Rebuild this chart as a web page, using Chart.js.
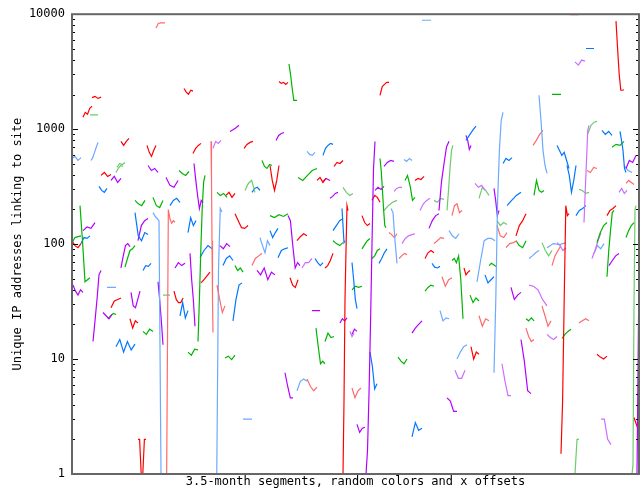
<!DOCTYPE html>
<html>
<head>
<meta charset="utf-8">
<script src="https://cdn.jsdelivr.net/npm/chart.js@4.4.1/dist/chart.umd.min.js"></script>
<style>
  html, body { margin: 0; padding: 0; background: #fff; }
  canvas { display: block; }
</style>
</head>
<body>
<canvas id="chart" width="642" height="489"></canvas>
<script>
// one entry per 3.5-month segment: colour index, x offset range, values
const segColor = [
  1, 0, 0, 0, 3, 0, 5, 5, 0, 0,
  3, 2, 0, 6, 6, 0, 7, 1, 5, 4,
  0, 2, 5, 0, 4, 6, 6, 2, 6, 5,
  6, 3, 5, 1, 4, 7, 0, 2, 5, 1,
  4, 7, 3, 4, 4, 2, 6, 3, 0, 6,
  6, 2, 6, 4, 2, 2, 4, 6, 4, 6,
  5, 1, 4, 2, 2, 2, 6, 6, 4, 0,
  2, 6, 6, 2, 4, 6, 6, 5, 0, 6,
  6, 2, 0, 4, 0, 3, 6, 0, 4, 4,
  0, 2, 0, 2, 0, 6, 2, 0, 3, 4,
  6, 3, 0, 2, 6, 4, 5, 0, 4, 1,
  6, 4, 2, 6, 7, 4, 0, 2, 4, 0,
  4, 0, 1, 4, 6, 6, 7, 2, 2, 2,
  6, 5, 1, 5, 6, 7, 0, 3, 5, 0,
  2, 0, 7, 3, 1, 7, 3, 6, 1, 7,
  5, 1, 2, 2, 4, 1, 0, 4, 2, 0,
  5, 4, 2, 4, 2, 1, 2, 2, 5, 1,
  6, 6, 5, 0, 2, 4, 7, 1, 6, 6,
  4, 5, 4, 1, 5, 1, 7, 2, 3, 6,
  4, 0, 3, 1, 1, 2, 4, 0, 0, 2,
  2, 7, 5, 6, 2, 5, 7, 3, 1, 5,
  6, 7, 1, 2, 1, 3, 6, 0, 1, 7,
  2, 0, 7, 6, 7, 3, 4, 5
];

const segFrom = [
  84, 112, 20, 11, 18, 49, 0, 19, 75, 121,
  45, 217, 207, 158, 204, 172, 141, 139, 235, 251,
  262, 190, 350, 308, 394, 394, 294, 308, 312, 332,
  367, 375, 422, 498, 514, 503, 544, 480, 467, 461,
  485, 512, 516, 530, 548, 540, 554, 44, 29, 39,
  76, 107, 122, 27, 63, 81, 98, 94, 63, 66,
  81, 93, 116, 126, 116, 8, 1, 11, 9, 0,
  0, 21, 49, 53, 71, 103, 118, 35, 39, 59,
  31, 36, 58, 108, 102, 91, 86, 129, 128, 44,
  66, 71, 198, 226, 245, 250, 145, 154, 173, 180,
  258, 271, 163, 198, 216, 198, 188, 225, 206, 180,
  148, 151, 163, 185, 230, 243, 253, 261, 261, 271,
  270, 218, 145, 161, 240, 268, 278, 153, 244, 253,
  213, 225, 235, 171, 303, 322, 300, 312, 319, 290,
  333, 343, 348, 362, 380, 403, 407, 357, 317, 330,
  377, 362, 290, 300, 307, 327, 353, 360, 380, 392,
  405, 413, 417, 280, 280, 370, 353, 398, 368, 407,
  340, 280, 385, 399, 326, 298, 383, 280, 375, 285,
  340, 325, 495, 515, 552, 554, 547, 462, 507, 422,
  435, 444, 425, 425, 434, 444, 504, 489, 535, 535,
  525, 520, 522, 537, 554, 475, 485, 470, 480, 457,
  439, 457, 470, 454, 507, 560, 565, 562, 454, 475,
  490, 525, 430, 449, 529, 499, 431, 143
];

const segTo = [
  93, 121, 29, 20, 26, 57, 9, 26, 84, 129,
  53, 225, 216, 167, 212, 181, 149, 141, 243, 261,
  271, 200, 359, 317, 404, 399, 303, 314, 322, 340,
  377, 381, 431, 507, 522, 513, 552, 489, 475, 471,
  497, 517, 525, 540, 554, 552, 564, 51, 39, 49,
  86, 117, 131, 35, 73, 91, 108, 106, 76, 76,
  91, 103, 124, 133, 126, 18, 11, 23, 18, 9,
  9, 29, 58, 63, 79, 113, 123, 44, 49, 68,
  40, 44, 66, 116, 111, 98, 91, 138, 140, 63,
  74, 81, 207, 245, 254, 258, 155, 163, 183, 188,
  266, 281, 176, 216, 228, 206, 198, 235, 216, 190,
  158, 161, 171, 203, 240, 251, 261, 271, 271, 276,
  273, 226, 153, 170, 248, 275, 282, 163, 253, 262,
  221, 235, 245, 180, 312, 330, 308, 325, 325, 298,
  343, 352, 358, 372, 390, 413, 417, 367, 325, 343,
  387, 372, 298, 308, 315, 335, 362, 368, 391, 398,
  423, 422, 424, 285, 290, 380, 362, 407, 377, 417,
  350, 285, 395, 407, 335, 305, 393, 289, 385, 293,
  350, 330, 504, 525, 560, 562, 555, 472, 517, 427,
  449, 454, 435, 435, 445, 454, 514, 497, 544, 542,
  535, 529, 532, 547, 562, 494, 494, 480, 489, 467,
  449, 475, 479, 462, 517, 564, 570, 568, 462, 485,
  499, 535, 439, 459, 539, 507, 440, 150
];

const segValues = [
  [7600, 8300, 8400, 8400, 8400],
  [2260, 2100, 2010, 2180, 2140],
  [1880, 1930, 1850, 1900],
  [1270, 1400, 1350, 1520, 1580],
  [1330, 1330, 1330],
  [783, 722, 783, 830],
  [556, 579, 534, 565],
  [534, 565, 628, 695, 767],
  [722, 628, 579, 654, 722],
  [615, 680, 722, 752],
  [465, 503, 493, 513],
  [3690, 2970, 2260, 1780, 1780, 1780],
  [2600, 2500, 2550, 2450, 2550],
  [955, 990, 1030, 1080],
  [798, 882, 918, 936],
  [680, 737, 767, 783],
  [680, 783, 752, 798],
  [783, 358, 107, 33, 17],
  [641, 603, 591, 628],
  [591, 680, 722, 752, 737],
  [474, 513, 503, 534],
  [534, 474, 455, 493, 483],
  [8860, 8860, 8860],
  [1970, 2350, 2450, 2550, 2550],
  [798, 882, 975, 1060],
  [882, 798, 667, 722],
  [1, 1.6, 5, 20, 100, 450, 780],
  [556, 437, 300, 200, 145, 139],
  [474, 513, 534, 524],
  [545, 524, 556, 534],
  [196, 350, 500, 700, 783],
  [196, 293, 455, 654, 722],
  [7.6, 33, 240, 654, 1190, 1400],
  [9900, 9900, 9900],
  [5030, 5030, 5030],
  [3850, 3610, 3990, 3910],
  [8700, 5000, 3000, 2180, 2180, 2200],
  [2010, 2010, 2010],
  [1970, 1190, 654, 483, 412],
  [722, 798, 900, 975],
  [722, 654, 591, 628, 534, 455],
  [154, 293, 534, 975, 1080],
  [918, 1080, 1150, 1170],
  [975, 900, 955, 882],
  [955, 798, 654, 455, 420],
  [695, 737, 722, 783],
  [455, 534, 513, 591],
  [420, 455, 483, 474],
  [396, 420, 388, 404],
  [358, 388, 344, 373],
  [483, 437, 455, 420],
  [437, 412, 396, 428],
  [503, 358, 265, 204, 240, 228],
  [318, 293, 282, 305],
  [240, 224, 216, 240],
  [255, 216, 208, 240],
  [216, 240, 250, 231],
  [380, 324, 312, 358],
  [188, 118, 107, 126, 121],
  [107, 145, 160, 167],
  [188, 175, 167, 160, 1, 1],
  [1, 1, 200, 165, 152, 160, 155],
  [126, 170, 145, 160],
  [14.2, 33, 88, 204, 344, 396],
  [11.5, 10.8, 12.2, 12],
  [216, 107, 47, 49, 51],
  [44, 39, 36, 40, 38],
  [131, 141, 137, 154],
  [101, 114, 112, 118],
  [107, 97, 93, 101],
  [103, 114, 116, 118],
  [14.2, 21.5, 33, 54, 59],
  [62, 79, 97, 101, 95],
  [63, 75, 88, 91, 97],
  [59, 65, 64, 68],
  [62, 69, 65, 68],
  [83, 49, 33, 19.3],
  [42, 42, 42],
  [28, 32, 33, 34],
  [38, 29, 28, 33, 39],
  [25.4, 23.8, 22.4, 24.4],
  [22.4, 23.8, 24.9, 24.4],
  [22.4, 18.6, 21.5, 20.6],
  [23.8, 31, 22.8, 26.4],
  [39, 33, 31, 31, 34],
  [36, 36, 36],
  [47, 33, 21.5, 13.3],
  [46, 49, 53, 57],
  [76, 88, 97, 91],
  [12.8, 14.8, 11.5, 14.2, 12, 13.5],
  [2, 2, 1, 1, 2, 2],
  [17.4, 16.4, 18.2, 17.4],
  [483, 358, 293, 358, 483],
  [380, 358, 396, 437, 455],
  [358, 380, 344, 373],
  [344, 373, 358],
  [282, 265, 276, 255],
  [265, 282, 255, 276],
  [293, 337, 358, 282],
  [282, 305, 312, 293],
  [250, 260, 276, 282],
  [312, 282, 265, 276],
  [184, 160, 139, 137, 145],
  [177, 170, 180, 174, 184],
  [177, 160, 97, 62, 69, 65],
  [131, 114, 126, 137],
  [114, 97, 84, 107, 97],
  [107, 116, 123, 118],
  [76, 88, 91, 93],
  [65, 75, 79, 83],
  [97, 91, 101, 95],
  [65, 75, 79, 72],
  [65, 59, 62, 57],
  [59, 54, 62, 49, 57, 54],
  [62, 69, 69, 75],
  [75, 69, 65, 69],
  [62, 65, 72, 83],
  [107, 101, 97, 103],
  [131, 145, 160, 167],
  [1, 4.3, 33, 88, 216, 196],
  [204, 145, 103, 107],
  [51, 44, 42, 49],
  [44, 33, 25.4, 29],
  [21.5, 33, 44, 46],
  [26.4, 26.4, 26.4],
  [20.6, 22.4, 21.5, 22.8],
  [17.4, 15.7, 16.8],
  [10.2, 10.6, 9.9, 10.8],
  [18.6, 12.8, 9.1, 9.6, 9.1],
  [14.2, 16.8, 15.4, 15.7],
  [7.6, 5.8, 4.6, 4.6],
  [5.3, 6.4, 6.7, 6.4],
  [6.7, 5.8, 5.3, 5.7],
  [3, 3, 3],
  [293, 312, 299, 318],
  [288, 305, 312, 312],
  [240, 265, 255, 231],
  [196, 216, 231, 240],
  [204, 188, 107, 68],
  [177, 154, 145, 151],
  [358, 396, 324, 240, 255],
  [358, 373, 365, 388],
  [196, 224, 240, 250],
  [240, 231, 250, 245],
  [177, 216, 224, 188, 196],
  [337, 312, 324, 293],
  [250, 312, 293, 265],
  [137, 160, 177, 184],
  [126, 121, 114, 123],
  [101, 112, 118, 121, 123],
  [131, 118, 112, 123],
  [101, 107, 114, 112],
  [91, 99, 107, 112],
  [75, 79, 88, 91],
  [68, 75, 84, 91],
  [75, 79, 83, 81],
  [75, 84, 88, 84],
  [68, 63, 62, 64],
  [72, 75, 69, 79, 49, 22.4],
  [62, 54, 57, 59],
  [47, 72, 107, 112, 112, 107],
  [54, 46, 49, 52],
  [65, 68, 66, 64],
  [69, 49, 33, 27.5],
  [40, 43, 42, 43],
  [52, 43, 49, 51],
  [39, 42, 44, 43],
  [36, 31, 34, 32],
  [26.4, 21.5, 22.8, 22.4],
  [23.8, 19.3, 22.4, 21.5],
  [16.8, 18.6, 20, 21.5],
  [16.4, 18.2, 17.4],
  [10, 11.5, 12.8, 13.3],
  [12.8, 10, 11.5, 11],
  [10.4, 9.6, 9.1, 10],
  [11.5, 8.7, 5.5, 6.1],
  [8, 6.8, 6.8, 8],
  [5.6, 4.6, 5.3, 5.6],
  [4.6, 4.3, 3.5, 3.5],
  [2.7, 2.3, 2.5, 2.55],
  [2.1, 2.8, 2.4, 2.5],
  [1, 1, 1],
  [483, 396, 282, 358, 483],
  [437, 420, 465, 455],
  [483, 437, 420],
  [337, 358, 344, 330],
  [282, 305, 276, 293],
  [265, 358, 293, 282, 293],
  [299, 293, 276, 282],
  [305, 240, 177, 196],
  [216, 240, 265, 282],
  [118, 145, 160, 184],
  [160, 145, 154, 148],
  [145, 118, 114, 126],
  [93, 101, 103, 107],
  [107, 97, 93, 107],
  [177, 196, 204, 216],
  [1.5, 4.3, 33, 216, 177, 184],
  [177, 196, 204, 216],
  [52, 88, 131, 188, 196],
  [103, 126, 145, 154],
  [75, 88, 107, 126],
  [83, 97, 91, 101],
  [65, 72, 79, 83],
  [114, 131, 145, 154],
  [93, 101, 99, 103],
  [103, 97, 88, 93],
  [103, 88, 79, 88],
  [65, 79, 88, 97],
  [75, 79, 84, 88],
  [42, 33, 36, 38],
  [44, 43, 40, 33, 29],
  [29, 23.8, 19.3, 21.5],
  [22.4, 21.5, 22.8, 21.5],
  [20.6, 21.5, 22.4, 21.5],
  [1, 1.2, 30, 200, 216],
  [1, 30, 200, 216],
  [3.1, 2.6, 2.9],
  [18.6, 15.7, 14.2, 14.8],
  [16.4, 15.4, 14.8, 15.7],
  [15.1, 16.4, 17.4, 18.2],
  [11, 10.4, 10, 10.6],
  [9.1, 6.4, 4.8, 4.8],
  [14.8, 9.6, 5.3, 5],
  [3, 3, 2, 1.8],
  [1, 1, 1, 2, 2],
  [503, 556, 534, 565],
  [1, 1, 60, 204, 190]
];

const yLabels = [1, 10, 100, 1000, 10000];
const yTicks = [];
yLabels.forEach((d) => {
  for (let k = 1; k <= 9; k++) if (d * k <= 10000) yTicks.push(d * k);
});

const palette = [
  "#ff0000", "#ff6a6a", "#00b400", "#6ccc6c",
  "#0078ff", "#6aaaff", "#b400ff", "#cc6eff",
];

const datasets = segValues.map((vals, i) => ({
  data: vals.map((v, j) => ({
    x: segFrom[i] + ((segTo[i] - segFrom[i]) * j) / (vals.length - 1),
    y: v,
  })),
  borderColor: palette[segColor[i]],
  borderWidth: 1.2,
  pointRadius: 0,
  showLine: true,
  tension: 0,
  fill: false,
}));

// inward tick marks on both sides plus the grey frame
const frame = {
  id: "frame",
  afterDatasetsDraw(chart) {
    const { ctx, chartArea: a } = chart;
    const y = chart.scales.y;
    ctx.save();
    ctx.strokeStyle = "#000";
    ctx.lineWidth = 1;
    ctx.beginPath();
    yTicks.forEach((v) => {
      const py = Math.round(y.getPixelForValue(v)) + 0.5;
      const len = yLabels.includes(v) ? 6 : 3;
      ctx.moveTo(a.left, py);
      ctx.lineTo(a.left + len, py);
      ctx.moveTo(a.right, py);
      ctx.lineTo(a.right - len, py);
    });
    ctx.stroke();
    ctx.strokeStyle = "#666";
    ctx.lineWidth = 2;
    ctx.strokeRect(a.left, a.top, a.right - a.left, a.bottom - a.top);
    ctx.restore();
  },
};

Chart.defaults.font.family = "'DejaVu Sans Mono', monospace";
Chart.defaults.font.size = 12;
Chart.defaults.color = "#000";

new Chart(document.getElementById("chart"), {
  type: "scatter",
  data: { datasets },
  options: {
    responsive: false,
    animation: false,
    devicePixelRatio: 1,
    layout: { padding: { top: 14, right: 3, left: 0, bottom: 0 } },
    plugins: { legend: { display: false }, tooltip: { enabled: false } },
    scales: {
      x: {
        type: "linear",
        min: 0,
        max: 567,
        ticks: { display: false },
        grid: { display: false, drawTicks: false },
        border: { display: false },
        title: {
          display: true,
          text: "3.5-month segments, random colors and x offsets",
          padding: { top: 0, bottom: 0 },
        },
        afterFit: (s) => { s.height = 15; },
      },
      y: {
        type: "logarithmic",
        min: 1,
        max: 10000,
        grid: { display: false, drawTicks: false },
        border: { display: false },
        afterBuildTicks: (s) => { s.ticks = yTicks.map((v) => ({ value: v })); },
        ticks: {
          autoSkip: false,
          padding: 7,
          callback: (v) => (yLabels.includes(v) ? String(v) : ""),
        },
        title: {
          display: true,
          text: "Unique IP addresses linking to site",
          padding: { top: 11, bottom: 0 },
        },
        afterFit: (s) => { s.width = 72; },
      },
    },
  },
  plugins: [frame],
});
</script>
</body>
</html>
